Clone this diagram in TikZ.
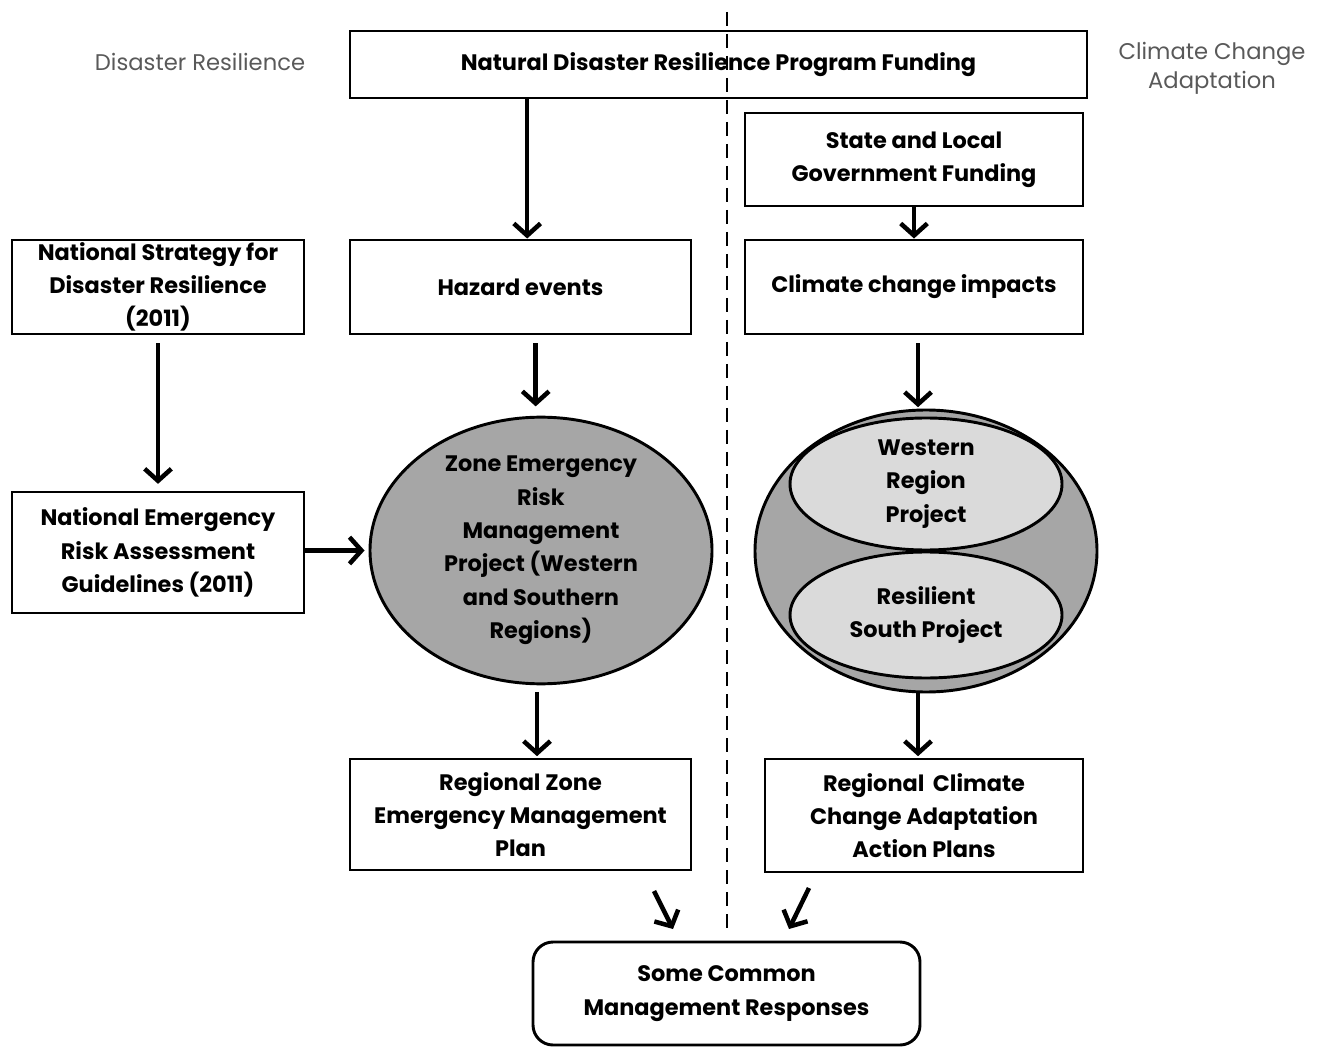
\documentclass[tikz,border=0pt]{standalone}
\usepackage{fontspec}
\setmainfont{Poppins}
\usetikzlibrary{shapes.geometric,arrows.meta}
\definecolor{zonegray}{RGB}{166,166,166}
\definecolor{innergray}{RGB}{218,218,218}

\begin{document}
\begin{tikzpicture}[x=0.75pt,y=-0.75pt]
            \useasboundingbox (0,0) rectangle (1321,1048);
            \begin{scope}[every node/.style={draw=black,line width=2.2pt,rectangle,align=center,inner sep=0pt,font=\bfseries\fontsize{16.8}{25}\selectfont}]
                \node[minimum width=552.75pt,minimum height=50.25pt] (fund) at (718.5,64.5) {Natural Disaster Resilience Program Funding};
                \node[minimum width=253.5pt,minimum height=69.75pt] (state) at (914,159.5) {State and Local\\Government Funding};

                \node[minimum width=219pt,minimum height=70.5pt] (nsdr) at (158,287) {National Strategy for\\Disaster Resilience\\(2011)};
                \node[minimum width=255.75pt,minimum height=70.5pt] (hazard) at (520.5,287) {Hazard events};
                \node[minimum width=253.5pt,minimum height=70.5pt] (impacts) at (914,287) {Climate change impacts};

                \node[minimum width=219pt,minimum height=90.75pt] (nerag) at (158,552.5) {National Emergency\\Risk Assessment\\Guidelines (2011)};
                \node[ellipse,fill=zonegray,minimum width=256.5pt,minimum height=198.75pt] (zone) at (541,550.5) {Zone Emergency\\Risk\\Management\\Project (Western\\and Southern\\Regions)};

                \node[ellipse,fill=zonegray,minimum width=256.5pt,minimum height=211.5pt] (proj) at (926,551) {};
                \node[ellipse,fill=innergray,minimum width=204pt,minimum height=99pt] (west) at (926,484) {Western\\Region\\Project};
                \node[ellipse,fill=innergray,minimum width=204pt,minimum height=94.5pt] (south) at (926,615) {Resilient\\South Project};

                \node[minimum width=255.75pt,minimum height=83.25pt] (rzemp) at (520.5,814.5) {Regional Zone\\Emergency Management\\Plan};
                \node[minimum width=238.5pt,minimum height=84.75pt] (rccap) at (924,815.5) {Regional\, Climate\\Change Adaptation\\Action Plans};

                \node[rounded corners=15pt,minimum width=290.25pt,minimum height=77.25pt] (common) at (726.5,993.5) {Some Common\\Management Responses};
            \end{scope}
            \begin{scope}[every node/.style={align=center,text=black!65,font=\fontsize{17}{22}\selectfont}]
                \node (dr) at (200,62) {Disaster Resilience};
                \node (cca) at (1212,68) {Climate Change\\Adaptation};
            \end{scope}

            \coordinate (dtop) at (727,12);
            \coordinate (dbot) at (727,935);
            \draw[line width=2.2pt,dash pattern=on 10.5pt off 6pt] (dtop) -- (dbot);

            \coordinate (la) at (654,891);
            \coordinate (lb) at (673,929);
            \coordinate (ra) at (809,888);
            \coordinate (rb) at (789,929);

            \begin{scope}[every edge/.style={draw,line width=3.4pt,-{Straight Barb[length=9pt,width=20pt,line width=3.4pt]}}]
                \path [->] ([xshift=5pt]fund.south -| hazard) edge ([xshift=5pt]hazard.north);
                \path [->] (state) edge (impacts);
                \path [->] (nsdr) edge[shorten <=6pt,shorten >=5pt] (nerag);
                \path [->] ([xshift=-4pt]hazard.south -| zone) edge[shorten <=6pt,shorten >=7pt] ([xshift=-4pt]zone.north);
                \path [->] ([xshift=-6pt]impacts.south -| proj) edge[shorten <=6pt,shorten >=1pt] ([xshift=-6pt]proj.north);
                \path [->] (nerag.east |- zone) edge[shorten >=3pt] (zone);
                \path [->] ([xshift=-3pt]zone.south) edge[shorten <=5pt,shorten >=1pt] ([xshift=-3pt]zone.south |- rzemp.north);
                \path [->] ([xshift=-6pt]proj.south) edge[shorten >=1pt] ([xshift=-6pt]proj.south |- rccap.north);
                \path [->] (la) edge (lb);
                \path [->] (ra) edge (rb);
            \end{scope}
        \end{tikzpicture}
\end{document}
